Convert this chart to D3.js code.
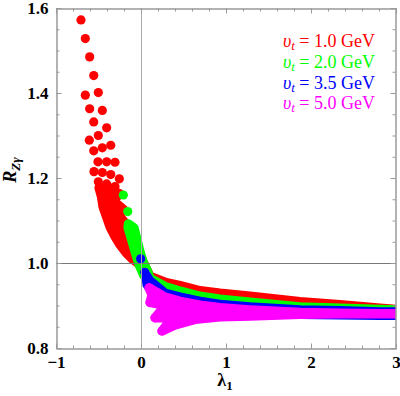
<!DOCTYPE html>
<html>
<head>
<meta charset="utf-8">
<script src="https://cdn.jsdelivr.net/npm/d3@7"></script>
<style>
  body { margin: 0; background: #fff; }
  text { font-family: "Liberation Serif", "Times New Roman", serif; }
</style>
</head>
<body>
<svg id="chart" width="400" height="396"></svg>
<script>
// series: v_t values
const vtLabels = ['1.0', '2.0', '3.5', '5.0'];
const seriesColors = ['#ff0000', '#00ff00', '#0000ff', '#ff00ff'];

const xTicks = [-1, 0, 1, 2, 3];
const yTicks = [0.8, 1.0, 1.2, 1.4, 1.6];

// isolated scan points [lambda1, R]
const redPoints = [
  [-0.706, 1.572], [-0.655, 1.528], [-0.604, 1.485], [-0.556, 1.441],
  [-0.655, 1.395], [-0.502, 1.401], [-0.604, 1.363], [-0.455, 1.359],
  [-0.556, 1.332], [-0.404, 1.318], [-0.502, 1.300], [-0.608, 1.289],
  [-0.556, 1.264], [-0.455, 1.271], [-0.356, 1.277], [-0.506, 1.238],
  [-0.404, 1.238], [-0.306, 1.237], [-0.553, 1.215], [-0.455, 1.213],
  [-0.356, 1.208], [-0.255, 1.198], [-0.502, 1.191], [-0.404, 1.186],
  [-0.306, 1.180]
];
const greenPoints = [[-0.208, 1.160], [-0.156, 1.121]];
const bluePoints = [[-0.004, 1.010], [0.044, 0.978], [0.067, 0.968], [0.106, 0.957]];
const magentaPoints = [[0.098, 0.941], [0.106, 0.907], [0.165, 0.871], [0.247, 0.840]];

// outline of the densely filled part of each scan (centres of the outer points)
const redHull = [
  [-0.494, 1.177], [-0.365, 1.172], [-0.247, 1.163], [-0.329, 1.147], [-0.200, 1.125],
  [-0.259, 1.111], [-0.165, 1.090], [-0.094, 1.060], [-0.035, 1.031], [0.024, 1.003],
  [0.106, 0.969], [0.282, 0.955], [0.459, 0.947], [0.694, 0.935], [0.929, 0.929],
  [1.282, 0.922], [1.871, 0.909], [2.341, 0.902], [2.812, 0.894], [3.0, 0.891],
  [3.0, 0.885], [2.812, 0.887], [2.341, 0.889], [1.871, 0.893], [1.282, 0.903],
  [0.929, 0.910], [0.694, 0.917], [0.459, 0.929], [0.282, 0.941], [0.106, 0.960],
  [-0.012, 0.996], [-0.094, 1.008], [-0.171, 1.023], [-0.247, 1.043], [-0.306, 1.062],
  [-0.365, 1.085], [-0.406, 1.109], [-0.447, 1.132], [-0.465, 1.156]
];
const greenHull = [
  [-0.149, 1.092], [-0.082, 1.083], [-0.047, 1.055], [-0.012, 1.027], [0.024, 1.003],
  [0.071, 0.984], [0.106, 0.964], [0.282, 0.945], [0.459, 0.934], [0.694, 0.922],
  [0.929, 0.915], [1.282, 0.908], [1.871, 0.897], [2.341, 0.894], [2.812, 0.891],
  [3.0, 0.890], [3.0, 0.881], [2.812, 0.881], [2.341, 0.883], [1.871, 0.885],
  [1.282, 0.893], [0.929, 0.898], [0.694, 0.905], [0.459, 0.915], [0.282, 0.924],
  [0.106, 0.949], [0.035, 0.970], [-0.024, 0.996], [-0.071, 1.027], [-0.118, 1.060],
  [-0.153, 1.083]
];
const blueHull = [
  [0.059, 0.972], [0.106, 0.958], [0.282, 0.929], [0.459, 0.920], [0.694, 0.910],
  [0.929, 0.903], [1.282, 0.897], [1.871, 0.890], [2.341, 0.888], [2.812, 0.885],
  [3.0, 0.885], [3.0, 0.877], [2.812, 0.877], [2.341, 0.878], [1.871, 0.879],
  [1.282, 0.885], [0.929, 0.890], [0.694, 0.896], [0.459, 0.905], [0.282, 0.915],
  [0.129, 0.932], [0.071, 0.949]
];
const magentaHull = [
  [0.094, 0.942], [0.282, 0.920], [0.459, 0.910], [0.694, 0.901], [0.929, 0.895],
  [1.282, 0.890], [1.871, 0.884], [2.341, 0.882], [2.812, 0.881], [3.0, 0.881],
  [3.0, 0.880], [2.812, 0.880], [2.341, 0.880], [1.871, 0.879], [1.282, 0.875],
  [0.929, 0.873], [0.635, 0.867], [0.400, 0.854], [0.247, 0.840], [0.365, 0.871],
  [0.165, 0.871], [0.282, 0.900], [0.106, 0.907], [0.129, 0.925]
];

const series = [
  { points: redPoints, hull: redHull },
  { points: greenPoints, hull: greenHull },
  { points: bluePoints, hull: blueHull },
  { points: magentaPoints, hull: magentaHull }
];

const r = 4.6;
const frameColor = '#999';

const x = d3.scaleLinear().domain([-1, 3]).range([56, 396]);
const y = d3.scaleLinear().domain([0.8, 1.6]).range([348, 8]);

const svg = d3.select('#chart');

svg.append('clipPath')
  .attr('id', 'plot-clip')
  .append('rect')
  .attr('x', 56).attr('y', 8)
  .attr('width', 340).attr('height', 340);

const plot = svg.append('g').attr('clip-path', 'url(#plot-clip)');

const hullLine = d3.line()
  .x((d) => x(d[0]))
  .y((d) => y(d[1]))
  .curve(d3.curveLinearClosed);

series.forEach((s, i) => {
  const g = plot.append('g');
  g.append('path')
    .attr('d', hullLine(s.hull))
    .attr('fill', seriesColors[i])
    .attr('stroke', seriesColors[i])
    .attr('stroke-width', 2 * r)
    .attr('stroke-linejoin', 'round');
  g.selectAll('circle')
    .data(s.points)
    .enter()
    .append('circle')
    .attr('cx', (d) => x(d[0]))
    .attr('cy', (d) => y(d[1]))
    .attr('r', r)
    .attr('fill', seriesColors[i]);
});

// reference lines
svg.append('line')
  .attr('x1', x(-1)).attr('x2', x(3))
  .attr('y1', Math.round(y(1)) + 0.5).attr('y2', Math.round(y(1)) + 0.5)
  .attr('stroke', '#777');
svg.append('line')
  .attr('x1', Math.round(x(0)) + 0.5).attr('x2', Math.round(x(0)) + 0.5)
  .attr('y1', y(0.8)).attr('y2', y(1.6))
  .attr('stroke', '#aaa');

// frame with inward ticks
function frameAxis(axis, transform, ticks, size, labels) {
  const g = svg.append('g')
    .attr('transform', transform)
    .call(axis.tickValues(ticks).tickSizeInner(-size).tickSizeOuter(0)
      .tickPadding(labels ? 7 : 0)
      .tickFormat(labels ? labels : () => ''));
  g.select('.domain').attr('stroke', frameColor);
  g.selectAll('.tick line').attr('stroke', frameColor);
  return g;
}

const xMinor = x.ticks(20);
const yMinor = y.ticks(16);
const fmtX = (d) => (d < 0 ? '\u2212' + Math.abs(d) : String(d));
const fmtY = d3.format('.1f');

frameAxis(d3.axisBottom(x), 'translate(0,348.5)', xMinor, 3);
frameAxis(d3.axisTop(x), 'translate(0,8.5)', xMinor, 3);
frameAxis(d3.axisLeft(y), 'translate(56.5,0)', yMinor, 3);
frameAxis(d3.axisRight(y), 'translate(395.5,0)', yMinor, 3);
const bottom = frameAxis(d3.axisBottom(x), 'translate(0,348.5)', xTicks, 5, fmtX);
frameAxis(d3.axisTop(x), 'translate(0,8.5)', xTicks, 5);
const left = frameAxis(d3.axisLeft(y), 'translate(56.5,0)', yTicks, 5, fmtY);
frameAxis(d3.axisRight(y), 'translate(395.5,0)', yTicks, 5);

bottom.selectAll('.tick text')
  .attr('fill', '#000')
  .attr('font-size', 17)
  .attr('font-weight', 'bold')
  .attr('font-family', '"Liberation Serif", serif');
left.selectAll('.tick text')
  .attr('fill', '#000')
  .attr('font-size', 17)
  .attr('font-weight', 'bold')
  .attr('font-family', '"Liberation Serif", serif')
  .attr('dx', -1);

// axis titles
const xTitle = svg.append('text')
  .attr('x', 225).attr('y', 386)
  .attr('text-anchor', 'middle')
  .attr('font-size', 18)
  .attr('font-weight', 'bold');
xTitle.append('tspan').text('\u03bb');
xTitle.append('tspan').attr('font-size', 13).attr('dy', 4).text('1');

const yTitle = svg.append('text')
  .attr('transform', 'translate(16,170) rotate(-90)')
  .attr('text-anchor', 'middle')
  .attr('font-size', 18)
  .attr('font-weight', 'bold')
  .attr('font-style', 'italic');
yTitle.append('tspan').text('R');
yTitle.append('tspan').attr('font-size', 13).attr('dy', 4).text('Z\u03b3');

// legend
const legend = svg.append('g');
vtLabels.forEach((v, i) => {
  const t = legend.append('text')
    .attr('x', 375)
    .attr('y', 47 + i * 20.8)
    .attr('text-anchor', 'end')
    .attr('font-size', 18)
    .attr('fill', seriesColors[i]);
  t.append('tspan').attr('font-style', 'italic').text('\u03c5');
  t.append('tspan').attr('font-style', 'italic').attr('font-size', 13).attr('dy', 3).text('t');
  t.append('tspan').attr('dy', -3).text(' = ' + v + ' GeV');
});
</script>
</body>
</html>
